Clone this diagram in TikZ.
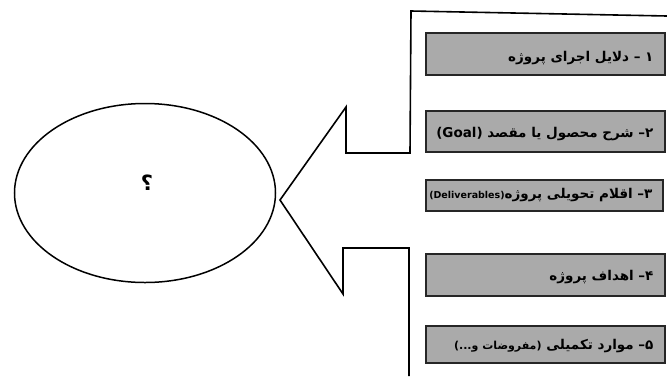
\documentclass[tikz,border=0pt]{standalone}
\usepackage{fontspec}
\usetikzlibrary{shapes.geometric}
\TeXXeTstate=1
\newfontfamily\arabicfont[Script=Arabic]{DejaVu Sans}
\definecolor{boxgray}{RGB}{170,170,170}
\tikzset{
  itembox/.style={draw=black!85, line width=2pt, fill=boxgray, minimum width=239pt, anchor=north west, inner sep=0pt},
  itemtext/.style={anchor=east, font=\arabicfont\bfseries\fontsize{13.5}{15}\selectfont},
  outline/.style={draw=black, line width=1.6pt, line join=miter},
}
\begin{document}
\begin{tikzpicture}[x=1pt, y=-1pt]
\useasboundingbox (0,0) rectangle (667,376);
% ellipse
\node[draw=black, line width=1.5pt, ellipse, minimum width=261pt, minimum height=179pt] (el) at (145,193) {};
\node[font=\arabicfont\bfseries\fontsize{21}{24}\selectfont] (q) at (147,183) {\beginR ؟\endR};
% arrow outline
\coordinate (t0) at (667,16);
\coordinate (t1) at (411,11);
\coordinate (t2) at (410,153);
\coordinate (t3) at (346,153);
\coordinate (t4) at (346,107);
\coordinate (tip) at (280,200);
\coordinate (b1) at (343,294);
\coordinate (b2) at (343,248);
\coordinate (b3) at (409,248);
\coordinate (b4) at (409,376);
\draw[outline] (t0) -- (t1) -- (t2) -- (t3) -- (t4) -- (tip) -- (b1) -- (b2) -- (b3) -- (b4);
% boxes
\node[itembox, minimum height=42pt] (box1) at (425,32) {};
\node[itembox, minimum height=41pt] (box2) at (425,110) {};
\node[itembox, minimum height=31pt, minimum width=237pt] (box3) at (425,179) {};
\node[itembox, minimum height=42pt] (box4) at (425,253) {};
\node[itembox, minimum height=37pt] (box5) at (425,325) {};
% texts
\node[itemtext] (tx1) at ([xshift=-9pt,yshift=-4pt]box1.east) {\beginR ۱ – دلایل اجرای پروژه\endR};
\node[itemtext] (tx2) at ([xshift=-9pt,yshift=-3pt]box2.east) {\beginR ۲– شرح محصول یا مقصد \beginL(Goal)\endL\endR};
\node[itemtext] (tx3) at ([xshift=-8pt]box3.east) {\beginR ۳– اقلام تحویلی پروژه\beginL{\fontsize{9.5}{11}\selectfont(Deliverables)}\endL\endR};
\node[itemtext] (tx4) at ([xshift=-9pt,yshift=-2pt]box4.east) {\beginR ۴– اهداف پروژه\endR};
\node[itemtext] (tx5) at ([xshift=-9pt,yshift=-2pt]box5.east) {\beginR ۵–  موارد تکمیلی {\fontsize{11}{12}\selectfont(مفروضات و...)}\endR};
\end{tikzpicture}
\end{document}
